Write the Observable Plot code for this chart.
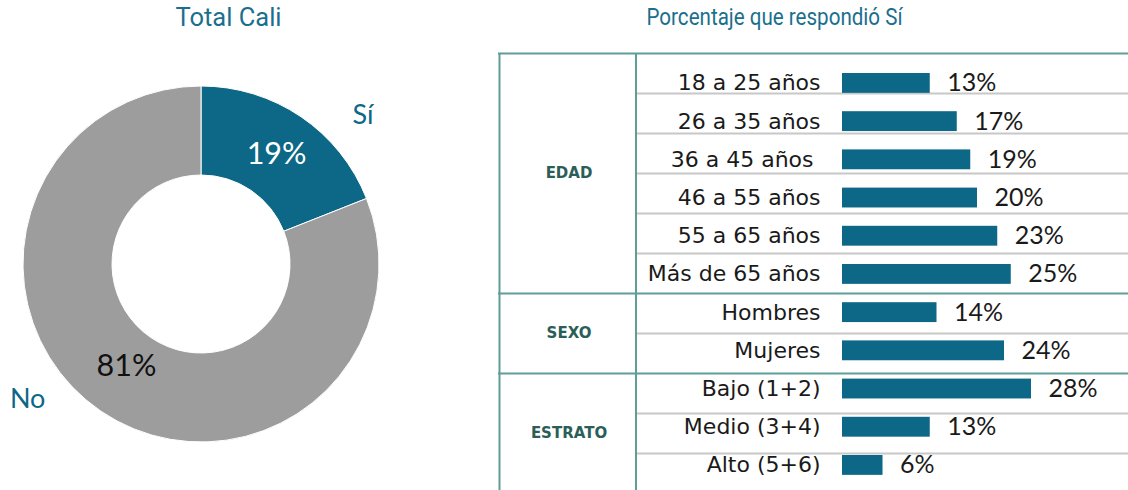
<!DOCTYPE html>
<html><head><meta charset="utf-8">
<script src="https://cdn.jsdelivr.net/npm/d3@7"></script>
<script src="https://cdn.jsdelivr.net/npm/@observablehq/plot@0.6"></script>
<style>
body{margin:0;background:#fff;}
#wrap{position:relative;width:1128px;height:490px;overflow:hidden;}
#wrap > svg{position:absolute;top:0;}
</style></head><body><div id="wrap"></div>
<script>
// ---- data ----
const titleLeft = "Total Cali";
const titleRight = "Porcentaje que respondió Sí";
const donutLabels = ["Sí", "No"];
const donutValues = [19, 81];
const groupNames = ["EDAD", "SEXO", "ESTRATO"];
const rowGroups = ["EDAD","EDAD","EDAD","EDAD","EDAD","EDAD","SEXO","SEXO","ESTRATO","ESTRATO","ESTRATO"];
const rowLabels = ["18 a 25 años","26 a 35 años","36 a 45 años ","46 a 55 años","55 a 65 años","Más de 65 años","Hombres","Mujeres","Bajo (1+2)","Medio (3+4)","Alto (5+6)"];
const rowValues = [13, 17, 19, 20, 23, 25, 14, 24, 28, 13, 6];

// ---- styles ----
const TEAL = "#0d6786", GRAY = "#9d9d9d", TITLE = "#1b6f8e", BORDER = "#5f9d97", SEP = "#c8c8c8", INK = "#1a1a1a";
const wrap = document.getElementById("wrap");

// ---- donut ----
const cx = 201, cy = 264, rOut = 178, rIn = 89;
const donutData = donutLabels.map((label, i) => ({label, value: donutValues[i]}));
const arcs = d3.pie().sort(null).value(d => d.value)(donutData);
const arcGen = d3.arc().innerRadius(rIn).outerRadius(rOut);
const sliceColors = [TEAL, GRAY];
const pctData = arcs.map((a, i) => {
  const [x, y] = arcGen.centroid(a);
  return {x: cx + x, y: cy + y + (i === 1 ? -9 : 0), text: a.data.value + "%", color: i === 0 ? "#ffffff" : "#111111"};
});
const nameOffsets = [13, 18]; // degrees past the slice middle
const nameData = arcs.map((a, i) => {
  const ang = (a.startAngle + a.endAngle) / 2 + nameOffsets[i] * Math.PI / 180;
  return {x: cx + 220 * Math.sin(ang), y: cy - 220 * Math.cos(ang), text: a.data.label};
});

const donut = Plot.plot({
  width: 480, height: 490, margin: 0,
  x: {type: "identity", axis: null}, y: {type: "identity", axis: null},
  marks: [
    () => {
      const g = d3.create("svg:g").attr("transform", `translate(${cx},${cy})`);
      g.selectAll("path").data(arcs).join("path")
        .attr("d", arcGen).attr("fill", (d, i) => sliceColors[i])
        .attr("stroke", "#fff").attr("stroke-width", 1);
      return g.node();
    },
    Plot.text(pctData, {x: "x", y: "y", text: "text", fill: "color", fontSize: 30.5, fontFamily: "Lato"}),
    Plot.text(nameData, {x: "x", y: "y", text: "text", fill: TEAL, fontSize: 27, fontFamily: "Lato"}),
    Plot.text([titleLeft], {frameAnchor: "top-left", dx: 228, dy: 17, textAnchor: "middle", lineAnchor: "middle", fill: TITLE, fontSize: 25.5, fontFamily: "Roboto"})
  ]
});
donut.style.left = "0px";
wrap.append(donut);

// ---- table grid ----
const rows = rowLabels.map((label, i) => ({i, label, value: rowValues[i], group: rowGroups[i]}));
const nRows = rows.length;
const groupSpans = groupNames.map(g => {
  const idx = rows.filter(r => r.group === g).map(r => r.i);
  return {group: g, y1: d3.min(idx), y2: d3.max(idx) + 1};
});
const groupBounds = groupSpans.map(s => s.y1);
const innerBounds = rows.map(r => r.i).filter(i => i > 0 && !groupBounds.includes(i));

const grid = Plot.plot({
  width: 630, height: 490, margin: 0,
  x: {domain: [0, 1], range: [0, 630], axis: null},
  y: {domain: [0, nRows], range: [53, 493], axis: null},
  marks: [
    Plot.ruleY(innerBounds, {stroke: SEP, strokeWidth: 2, insetLeft: 137}),
    Plot.ruleY(groupBounds, {stroke: BORDER, strokeWidth: 2}),
    Plot.ruleX([0], {y1: 0, y2: nRows, dx: 1, stroke: BORDER, strokeWidth: 2}),
    Plot.ruleX([0], {y1: 0, y2: nRows, dx: 137.5, stroke: BORDER, strokeWidth: 2}),
    Plot.text(groupSpans, {y: d => (d.y1 + d.y2) / 2, frameAnchor: "left", dx: 70.5, text: "group", textAnchor: "middle", fontSize: 15, fontWeight: "bold", fill: "#2b5e57", fontFamily: "DejaVu Sans", letterSpacing: 2}),
    Plot.text([titleRight], {frameAnchor: "top-left", dx: 276, dy: 17, textAnchor: "middle", lineAnchor: "middle", fill: TITLE, fontSize: 24, fontFamily: "Roboto"})
  ]
});
// the right-hand title is set in a condensed width
d3.select(grid).selectAll("text").filter(function() { return this.textContent === titleRight; })
  .attr("textLength", 256).attr("lengthAdjust", "spacingAndGlyphs");
grid.style.left = "498px";
wrap.append(grid);

// ---- bars ----
const barH = 0.52;
const bars = Plot.plot({
  width: 630, height: 490, margin: 0,
  x: {domain: [0, 28], range: [344, 533], axis: null},
  y: {domain: [0, nRows], range: [73, 493.2], axis: null},
  marks: [
    Plot.rect(rows, {x1: 0, x2: "value", y1: "i", y2: d => d.i + barH, fill: TEAL}),
    Plot.text(rows, {x: () => 0, y: d => d.i + barH / 2, text: "label", textAnchor: "end", dx: -22, fontSize: 22, fill: INK, fontFamily: "DejaVu Sans", style: "white-space:pre"}),
    Plot.text(rows, {x: "value", y: d => d.i + barH / 2, text: d => d.value + "%", textAnchor: "start", dx: 17, fontSize: 25, fill: INK, fontFamily: "Lato"})
  ]
});
bars.style.left = "498px";
wrap.append(bars);
</script>
</body></html>
